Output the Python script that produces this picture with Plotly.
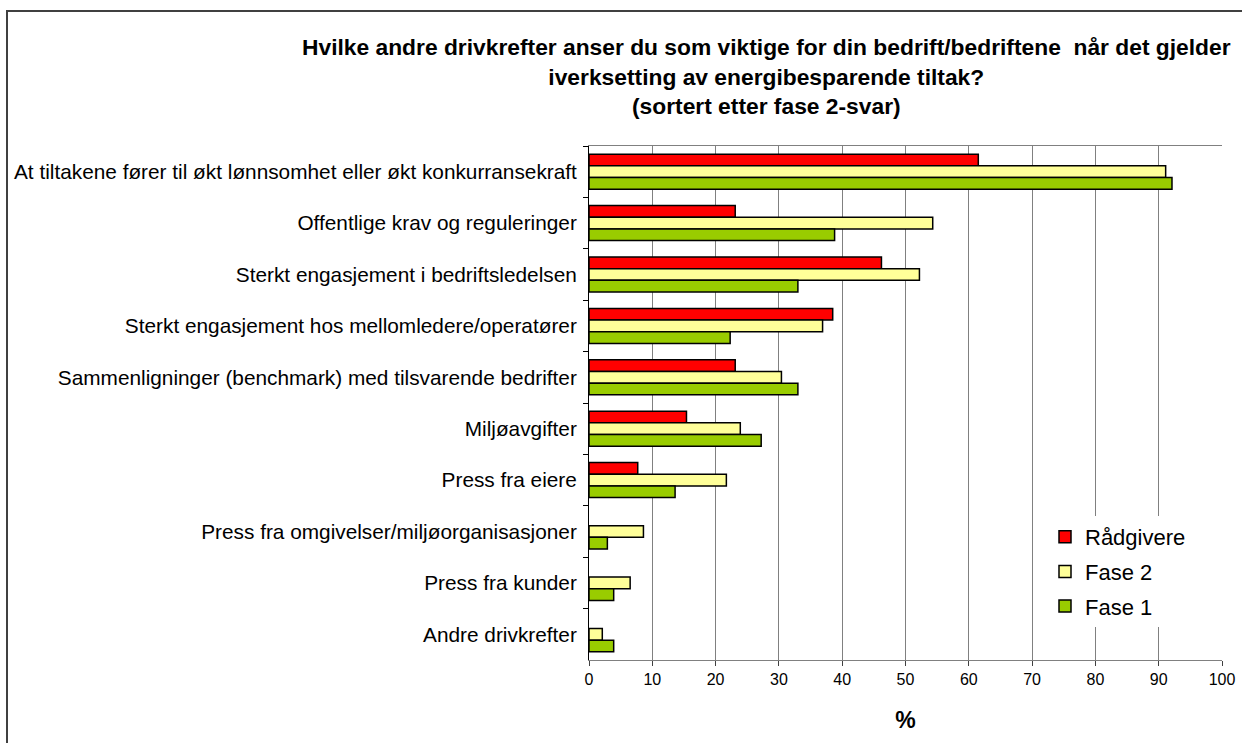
import plotly.graph_objects as go

categories = [
    "At tiltakene fører til økt lønnsomhet eller økt konkurransekraft",
    "Offentlige krav og reguleringer",
    "Sterkt engasjement i bedriftsledelsen",
    "Sterkt engasjement hos mellomledere/operatører",
    "Sammenligninger (benchmark) med tilsvarende bedrifter",
    "Miljøavgifter",
    "Press fra eiere",
    "Press fra omgivelser/miljøorganisasjoner",
    "Press fra kunder",
    "Andre drivkrefter",
]
radgivere = [61.5, 23.1, 46.2, 38.5, 23.1, 15.4, 7.7, 0, 0, 0]
fase2 = [91.1, 54.3, 52.2, 36.9, 30.4, 23.9, 21.7, 8.6, 6.5, 2.1]
fase1 = [92.1, 38.8, 33.0, 22.3, 33.0, 27.2, 13.6, 2.9, 3.9, 3.9]
x_ticks = [0, 10, 20, 30, 40, 50, 60, 70, 80, 90, 100]

series = [
    ("Rådgivere", radgivere, "#FF0000"),
    ("Fase 2", fase2, "#FFFF99"),
    ("Fase 1", fase1, "#99CC00"),
]

FONT = "Liberation Sans, Arial, sans-serif"
W, H = 1242, 743
L, R, T, B = 589, 20, 146, 83
pw = W - L - R
ph = H - T - B

fig = go.Figure()
for i, (name, vals, col) in enumerate(series):
    fig.add_trace(go.Bar(
        name=name, y=categories, x=[v if v else None for v in vals], orientation="h",
        marker=dict(color=col, line=dict(color="black", width=1.5)),
        legendgroup=f"g{i}",
    ))

def px_x(p):
    return (p - L) / pw

def px_y(p):
    return (H - B - p) / ph

fig.update_layout(
    width=W, height=H,
    margin=dict(l=L, r=R, t=T, b=B, autoexpand=False),
    paper_bgcolor="white", plot_bgcolor="white",
    barmode="group", bargap=0.32, bargroupgap=0,
    font=dict(family=FONT, color="black"),
    showlegend=True,
    legend=dict(
        x=px_x(1045), y=px_y(516), xanchor="left", yanchor="top",
        bgcolor="white", borderwidth=0,
        font=dict(size=22, family=FONT), tracegroupgap=3,
        traceorder="grouped", itemwidth=30,
    ),
    xaxis=dict(
        range=[0, 100], tickvals=x_ticks, ticktext=[str(v) for v in x_ticks],
        showgrid=True, gridcolor="#808080", gridwidth=1,
        showline=True, linecolor="#808080", linewidth=1, mirror=True,
        ticks="outside", ticklen=5, tickcolor="#404040",
        tickfont=dict(size=16, family=FONT),
        zeroline=False, automargin=False,
        title=dict(text="<b>%</b>", font=dict(size=23, family=FONT), standoff=24),
    ),
    yaxis=dict(
        autorange="reversed", type="category",
        showline=True, linecolor="black", linewidth=1,
        ticks="outside", ticklen=5, tickcolor="black", tickson="boundaries",
        tickfont=dict(size=20.8, family=FONT),
        ticklabelstandoff=7, automargin=False,
        showgrid=False,
    ),
    annotations=[dict(
        text="<b>Hvilke andre drivkrefter anser du som viktige for din bedrift/bedriftene  når det gjelder<br>iverksetting av energibesparende tiltak?<br>(sortert etter fase 2-svar)</b>",
        xref="paper", yref="paper", x=px_x(766), y=px_y(76),
        xanchor="center", yanchor="middle", showarrow=False, align="center",
        font=dict(size=22.8, family=FONT),
    )],
    shapes=[dict(
        type="rect", xref="paper", yref="paper",
        xsizemode="pixel", ysizemode="pixel", xanchor=0, yanchor=1,
        x0=7 - L, x1=1300 - L, y0=T - 800, y1=T - 11,
        line=dict(color="#404040", width=2), fillcolor="rgba(0,0,0,0)", layer="below",
    )],
)

fig.write_html(
    "out.html",
    config={"displayModeBar": False},
    post_script="document.body.style.margin='0px';document.body.style.padding='0px';",
)
